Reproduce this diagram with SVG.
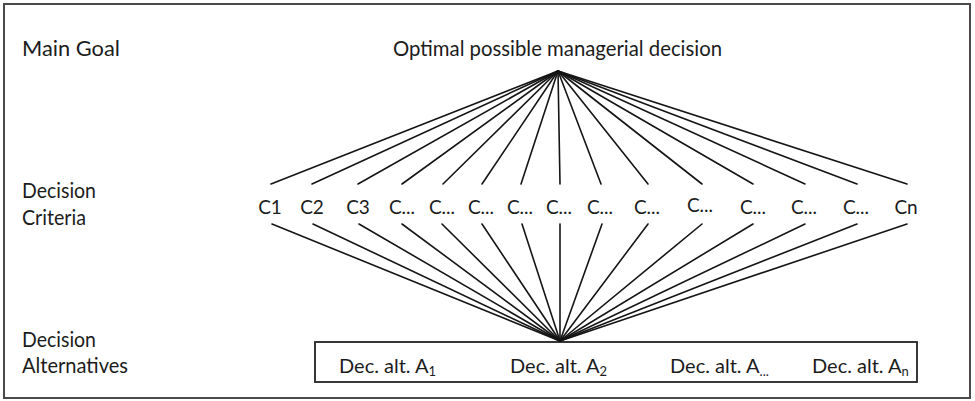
<svg xmlns="http://www.w3.org/2000/svg" width="975" height="401" viewBox="0 0 975 401">
<style>
text{font-family:Lato,"Open Sans","Liberation Sans",sans-serif;fill:#1c1c1c}
.lbl{font-size:21px}
.crit{font-size:19px;text-anchor:middle}
.alt{font-size:20px}
.sub{font-size:13px}
.con line{stroke:#151515;stroke-width:1.6;stroke-linecap:round}
.frame{fill:#fff;stroke:#4a4a4a;stroke-width:2}
.box{fill:none;stroke:#222;stroke-width:1.8}
</style>
<rect class="frame" x="4" y="4" width="966" height="394"/>
<g id="level-labels">
<text class="lbl" x="22" y="56" textLength="98" lengthAdjust="spacingAndGlyphs">Main Goal</text>
<text class="lbl" x="22" y="198" textLength="74" lengthAdjust="spacingAndGlyphs">Decision</text>
<text class="lbl" x="22" y="225" textLength="64" lengthAdjust="spacingAndGlyphs">Criteria</text>
<text class="lbl" x="22" y="347" textLength="74" lengthAdjust="spacingAndGlyphs">Decision</text>
<text class="lbl" x="22" y="373" textLength="106" lengthAdjust="spacingAndGlyphs">Alternatives</text>
</g>
<g id="goal">
<text class="lbl" x="393" y="56" textLength="329" lengthAdjust="spacingAndGlyphs">Optimal possible managerial decision</text>
</g>
<g id="criteria">
<g id="c1"><text class="crit" x="270" y="214">C1</text></g>
<g id="c2"><text class="crit" x="312" y="214">C2</text></g>
<g id="c3"><text class="crit" x="358" y="214">C3</text></g>
<g id="c4"><text class="crit" x="402" y="214">C...</text></g>
<g id="c5"><text class="crit" x="442" y="214">C...</text></g>
<g id="c6"><text class="crit" x="481" y="214">C...</text></g>
<g id="c7"><text class="crit" x="520" y="214">C...</text></g>
<g id="c8"><text class="crit" x="559" y="214">C...</text></g>
<g id="c9"><text class="crit" x="600" y="214">C...</text></g>
<g id="c10"><text class="crit" x="647" y="214">C...</text></g>
<g id="c11"><text class="crit" x="700" y="212">C...</text></g>
<g id="c12"><text class="crit" x="753" y="214">C...</text></g>
<g id="c13"><text class="crit" x="804" y="214">C...</text></g>
<g id="c14"><text class="crit" x="856" y="214">C...</text></g>
<g id="cn"><text class="crit" x="906" y="214">Cn</text></g>
</g>
<g id="alternatives">
<rect class="box" x="315" y="342" width="602" height="40"/>
<g id="a1"><text class="alt" x="339" y="373">Dec. alt. A<tspan class="sub" dy="3">1</tspan></text></g>
<g id="a2"><text class="alt" x="510" y="373">Dec. alt. A<tspan class="sub" dy="3">2</tspan></text></g>
<g id="a3"><text class="alt" x="670" y="373">Dec. alt. A<tspan class="sub" dy="3">...</tspan></text></g>
<g id="an"><text class="alt" x="812" y="373">Dec. alt. A<tspan class="sub" dy="3">n</tspan></text></g>
</g>
<g id="connectors" class="con">
<line x1="558" y1="71" x2="271" y2="184"/>
<line x1="558" y1="71" x2="312" y2="184"/>
<line x1="558" y1="71" x2="358" y2="184"/>
<line x1="558" y1="71" x2="402" y2="184"/>
<line x1="558" y1="71" x2="443" y2="184"/>
<line x1="558" y1="71" x2="482" y2="184"/>
<line x1="558" y1="71" x2="521" y2="184"/>
<line x1="558" y1="71" x2="560" y2="184"/>
<line x1="558" y1="71" x2="601" y2="184"/>
<line x1="558" y1="71" x2="648" y2="184"/>
<line x1="558" y1="71" x2="702" y2="184"/>
<line x1="558" y1="71" x2="753" y2="184"/>
<line x1="558" y1="71" x2="805" y2="184"/>
<line x1="558" y1="71" x2="857" y2="184"/>
<line x1="558" y1="71" x2="907" y2="184"/>
<line x1="272" y1="224" x2="560" y2="341"/>
<line x1="313" y1="224" x2="560" y2="341"/>
<line x1="359" y1="224" x2="560" y2="341"/>
<line x1="402" y1="224" x2="560" y2="341"/>
<line x1="442" y1="224" x2="560" y2="341"/>
<line x1="482" y1="224" x2="560" y2="341"/>
<line x1="522" y1="224" x2="560" y2="341"/>
<line x1="560" y1="224" x2="560" y2="341"/>
<line x1="602" y1="224" x2="560" y2="341"/>
<line x1="648" y1="224" x2="560" y2="341"/>
<line x1="702" y1="224" x2="560" y2="341"/>
<line x1="753" y1="224" x2="560" y2="341"/>
<line x1="805" y1="224" x2="560" y2="341"/>
<line x1="857" y1="224" x2="560" y2="341"/>
<line x1="907" y1="224" x2="560" y2="341"/>
</g>
</svg>
